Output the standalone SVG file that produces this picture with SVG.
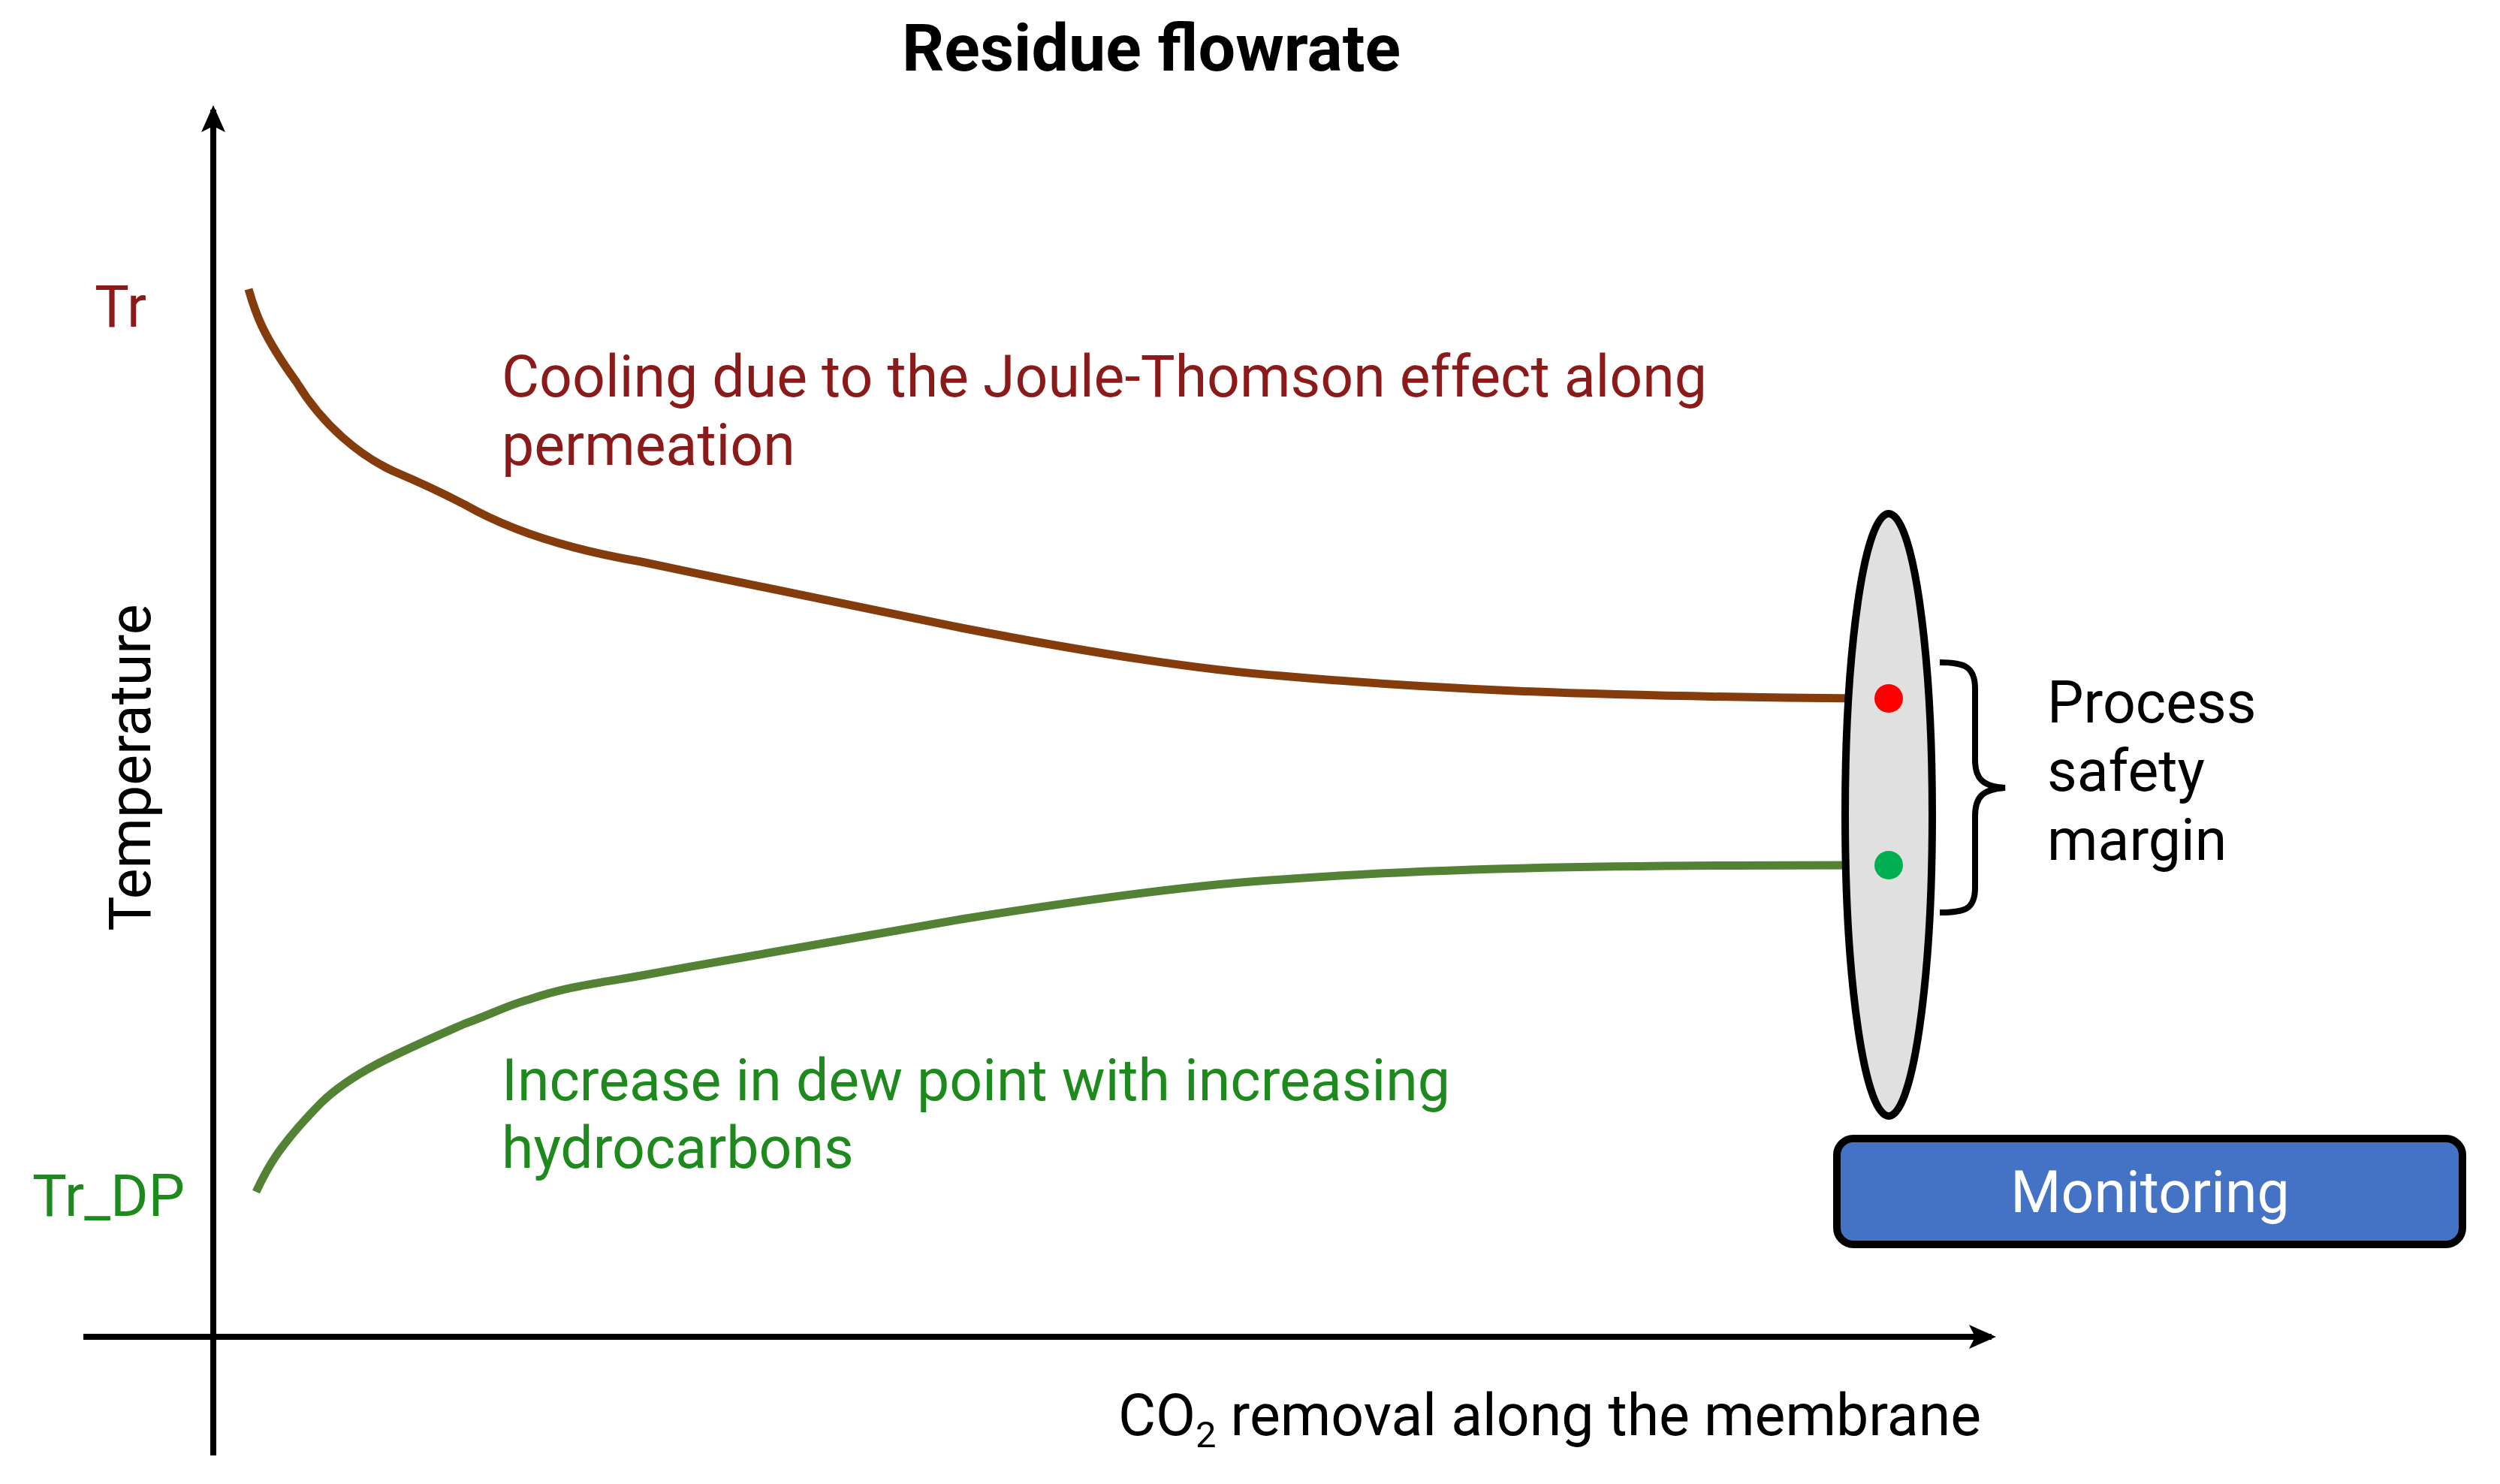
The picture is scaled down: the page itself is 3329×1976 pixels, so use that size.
<svg xmlns="http://www.w3.org/2000/svg" width="3329" height="1976" viewBox="0 0 3329 1976">
<style>
text{font-family:Roboto,"Liberation Sans",sans-serif;font-size:77px}
.ax{stroke:#000;stroke-width:8;fill:none}
</style>
<defs>
<marker id="a2" markerWidth="36" markerHeight="32" refX="30" refY="16" orient="auto" markerUnits="userSpaceOnUse"><path d="M0,0 L36,16 L0,32 L8,16 z" fill="#000"/></marker></defs>
<rect width="3329" height="1976" fill="#fff"/>
<text x="1533" y="94" text-anchor="middle" font-weight="bold" style="font-size:88px">Residue flowrate</text>
<g id="connectors">
<path class="ax" d="M284,1938 L284,146" marker-end="url(#a2)"/>
<path class="ax" d="M111,1780 L2652,1780" marker-end="url(#a2)"/>
<path d="M331,385 C340,417 350,447 395,509 C430,567 480,607 523,627 C570,647 600,662 619,672 C680,707 760,732 854,748 C1000,779 1150,809 1280,836 C1450,869 1600,892 1707,900 C1900,917 2100,927 2478,930" fill="none" stroke="#843c0c" stroke-width="11"/>
<path d="M341,1587 C355,1557 370,1527 427,1469 C470,1427 530,1402 619,1363 C650,1352 680,1337 704,1331 C760,1312 810,1307 854,1299 C1000,1272 1150,1247 1280,1224 C1450,1197 1600,1177 1707,1171 C1900,1157 2100,1152 2489,1152" fill="none" stroke="#548235" stroke-width="11"/>
<path d="M2583,882 C2615,882 2630,887 2630,917 L2630,1012 C2630,1037 2640,1047 2670,1049 C2640,1051 2630,1061 2630,1087 L2630,1182 C2630,1212 2615,1215 2583,1215" fill="none" stroke="#000" stroke-width="8"/>
</g>
<text x="126" y="435" fill="#8b1a1a">Tr</text>
<text x="43" y="1619" fill="#1e8a1e">Tr_DP</text>
<text transform="translate(200,1022) rotate(-90)" text-anchor="middle">Temperature</text>
<text x="668" y="528" fill="#8b1a1a">Cooling due to the Joule-Thomson effect along</text>
<text x="668" y="619" fill="#8b1a1a">permeation</text>
<text x="668" y="1465" fill="#1e8a1e">Increase in dew point with increasing</text>
<text x="668" y="1555" fill="#1e8a1e">hydrocarbons</text>
<text x="2638" y="1911" text-anchor="end">CO<tspan dy="16" style="font-size:49px">2</tspan><tspan dy="-16"> removal along the membrane</tspan></text>
<g id="ellipse"><ellipse cx="2515" cy="1085" rx="58" ry="401" fill="#e0e0e0" stroke="#000" stroke-width="10"/>
<circle cx="2515" cy="930" r="19" fill="#ff0000"/>
<circle cx="2515" cy="1152" r="19" fill="#00b050"/></g>
<g id="margin"><text x="2726" y="962">Process</text><text x="2726" y="1053">safety</text><text x="2726" y="1145">margin</text></g>
<g id="monitoring"><rect x="2446" y="1516" width="833" height="141" rx="22" fill="#4472c4" stroke="#000" stroke-width="10"/>
<text x="2863" y="1614" text-anchor="middle" fill="#fff">Monitoring</text></g>
</svg>
